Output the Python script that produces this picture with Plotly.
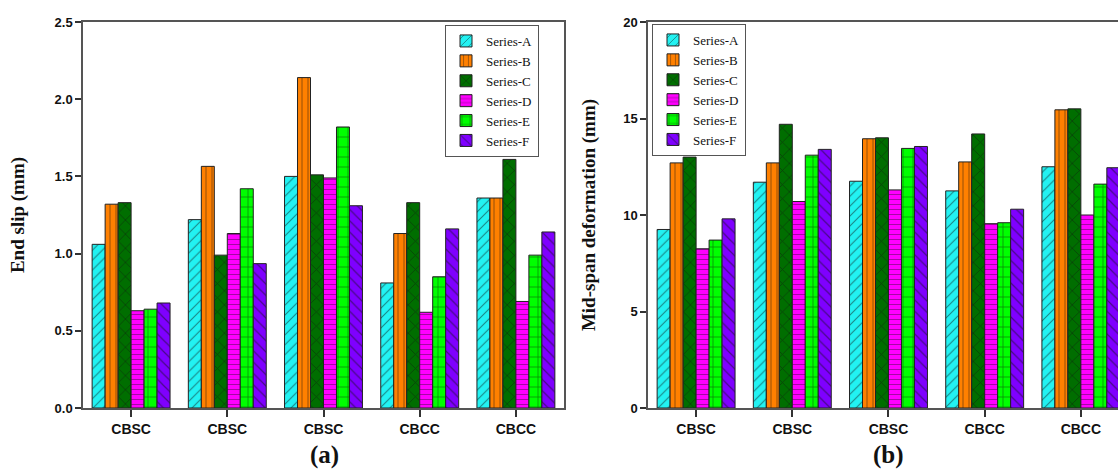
import plotly.graph_objects as go

categories = ["CBSC", "CBSC", "CBSC", "CBCC", "CBCC"]
cat_pos = [0, 1, 2, 3, 4]
series_names = ["Series-A", "Series-B", "Series-C", "Series-D", "Series-E", "Series-F"]

end_slip = {
    "Series-A": [1.06, 1.22, 1.50, 0.81, 1.36],
    "Series-B": [1.32, 1.565, 2.14, 1.13, 1.36],
    "Series-C": [1.33, 0.99, 1.51, 1.33, 1.61],
    "Series-D": [0.63, 1.13, 1.49, 0.62, 0.69],
    "Series-E": [0.64, 1.42, 1.82, 0.85, 0.99],
    "Series-F": [0.68, 0.935, 1.31, 1.16, 1.14],
}
mid_span = {
    "Series-A": [9.25, 11.7, 11.75, 11.25, 12.5],
    "Series-B": [12.7, 12.7, 13.95, 12.75, 15.45],
    "Series-C": [13.0, 14.7, 14.0, 14.2, 15.5],
    "Series-D": [8.25, 10.7, 11.3, 9.55, 10.0],
    "Series-E": [8.7, 13.1, 13.45, 9.6, 11.6],
    "Series-F": [9.8, 13.4, 13.55, 10.3, 12.45],
}

colors = ["#22F2F2", "#FF8000", "#006E00", "#FF00FF", "#00FF00", "#7F00FF"]
shapes = ["/", "|", "x", "-", "+", "\\"]
psizes = [7, 6, 10, 5, 10, 8]

fig = go.Figure()
for i, name in enumerate(series_names):
    for data, xa, ya, lg in [(end_slip, "x", "y", "legend"), (mid_span, "x2", "y2", "legend2")]:
        fig.add_trace(go.Bar(
            x=cat_pos, y=data[name], name=name, xaxis=xa, yaxis=ya, legend=lg,
            marker=dict(color=colors[i],
                        line=dict(color="#222222", width=1),
                        pattern=dict(shape=shapes[i], fgcolor="#111111", bgcolor=colors[i],
                                     size=psizes[i], solidity=0.15, fillmode="overlay")),
        ))

W, H = 1118, 470
PH = 386
tickfont = dict(family="Liberation Sans, Arial", size=13, color="#111", weight="bold")
titlefont = dict(family="Liberation Serif, Times New Roman", size=19, color="#111", weight="bold")
legfont = dict(family="Liberation Serif, Times New Roman", size=13, color="#111")
xcommon = dict(tickmode="array", tickvals=cat_pos, ticktext=categories, ticks="outside",
               ticklen=7, tickwidth=1.5, tickcolor="#333", showline=True, linecolor="#555",
               linewidth=1.5, showgrid=False, zeroline=False,
               tickfont=dict(family="Liberation Sans, Arial", size=14, color="#111", weight="bold"))
ycommon = dict(ticks="outside", ticklen=6, tickwidth=1.5, tickcolor="#333", showline=True,
               linecolor="#555", linewidth=1.5, showgrid=False, zeroline=False, tickfont=tickfont)

fig.update_layout(
    width=W, height=H, margin=dict(l=0, r=0, t=22, b=62),
    paper_bgcolor="white", plot_bgcolor="white",
    barmode="group", bargap=0.19, bargroupgap=0,
    xaxis=dict(domain=[83 / W, 564 / W], range=[-0.5, 4.5], mirror=True, anchor="y", **xcommon),
    yaxis=dict(domain=[0, 1], range=[0, 2.5], dtick=0.5, tickformat=".1f", mirror=True, anchor="x",
               title=dict(text="End slip (mm)", standoff=25, font=titlefont), **ycommon),
    xaxis2=dict(domain=[648 / W, 1.0], range=[-0.5, 4.386], mirror=True, anchor="y2", **xcommon),
    yaxis2=dict(domain=[0, 1], range=[0, 20], dtick=5, anchor="x2",
                title=dict(text="Mid-span deformation (mm)", standoff=23, font=titlefont), **ycommon),
    legend=dict(x=445 / W, y=1 - 3 / PH, xref="paper", yref="paper", xanchor="left", yanchor="top",
                bgcolor="white", bordercolor="#555", borderwidth=1, font=legfont,
                tracegroupgap=0, itemwidth=30),
    legend2=dict(x=652 / W, y=1 - 2 / PH, xref="paper", yref="paper", xanchor="left", yanchor="top",
                 bgcolor="white", bordercolor="#555", borderwidth=1, font=legfont,
                 tracegroupgap=0, itemwidth=30),
    annotations=[
        dict(text="(a)", x=324 / W, y=-47 / PH, xref="paper", yref="paper", showarrow=False,
             xanchor="center", yanchor="middle",
             font=dict(family="Liberation Serif, Times New Roman", size=25, color="#111", weight="bold")),
        dict(text="(b)", x=888 / W, y=-47 / PH, xref="paper", yref="paper", showarrow=False,
             xanchor="center", yanchor="middle",
             font=dict(family="Liberation Serif, Times New Roman", size=25, color="#111", weight="bold")),
    ],
)

fig.write_html("out.html")
